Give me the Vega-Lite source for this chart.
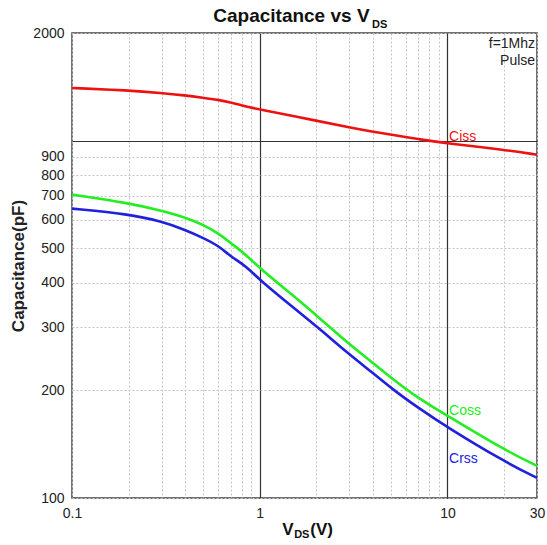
{
  "$schema": "https://vega.github.io/schema/vega-lite/v6.json",
  "width": 465,
  "height": 465,
  "autosize": {"type": "none"},
  "padding": {"left": 72, "top": 33, "right": 10, "bottom": 47},
  "background": "white",
  "config": {
    "font": "Liberation Sans",
    "view": {"stroke": "#444", "strokeWidth": 1.5},
    "axis": {"labelFont": "Liberation Sans", "titleFont": "Liberation Sans", "labelColor": "#222", "titleColor": "#222"}
  },
  "datasets": {
    "curves": [
      {"series": "Ciss", "v": 0.1, "c": 1403}, {"series": "Ciss", "v": 0.2, "c": 1382}, {"series": "Ciss", "v": 0.3, "c": 1359},
      {"series": "Ciss", "v": 0.4, "c": 1338}, {"series": "Ciss", "v": 0.5, "c": 1318}, {"series": "Ciss", "v": 0.6, "c": 1301},
      {"series": "Ciss", "v": 0.7, "c": 1279}, {"series": "Ciss", "v": 0.8, "c": 1254}, {"series": "Ciss", "v": 0.9, "c": 1236},
      {"series": "Ciss", "v": 1, "c": 1223}, {"series": "Ciss", "v": 2, "c": 1137}, {"series": "Ciss", "v": 3, "c": 1089},
      {"series": "Ciss", "v": 4, "c": 1059}, {"series": "Ciss", "v": 5, "c": 1039}, {"series": "Ciss", "v": 6, "c": 1023},
      {"series": "Ciss", "v": 7, "c": 1010}, {"series": "Ciss", "v": 8, "c": 999}, {"series": "Ciss", "v": 10, "c": 982},
      {"series": "Ciss", "v": 20, "c": 943}, {"series": "Ciss", "v": 30, "c": 913},
      {"series": "Coss", "v": 0.1, "c": 706}, {"series": "Coss", "v": 0.2, "c": 669}, {"series": "Coss", "v": 0.3, "c": 637},
      {"series": "Coss", "v": 0.4, "c": 610}, {"series": "Coss", "v": 0.5, "c": 582}, {"series": "Coss", "v": 0.6, "c": 551},
      {"series": "Coss", "v": 0.7, "c": 517}, {"series": "Coss", "v": 0.8, "c": 490}, {"series": "Coss", "v": 0.9, "c": 464},
      {"series": "Coss", "v": 1, "c": 440}, {"series": "Coss", "v": 1.5, "c": 369}, {"series": "Coss", "v": 2, "c": 325},
      {"series": "Coss", "v": 3, "c": 269}, {"series": "Coss", "v": 4, "c": 239}, {"series": "Coss", "v": 5, "c": 217},
      {"series": "Coss", "v": 7, "c": 190}, {"series": "Coss", "v": 10, "c": 170}, {"series": "Coss", "v": 20, "c": 136.5},
      {"series": "Coss", "v": 30, "c": 123},
      {"series": "Crss", "v": 0.1, "c": 645}, {"series": "Crss", "v": 0.2, "c": 623}, {"series": "Crss", "v": 0.3, "c": 594},
      {"series": "Crss", "v": 0.4, "c": 563}, {"series": "Crss", "v": 0.5, "c": 534}, {"series": "Crss", "v": 0.6, "c": 509},
      {"series": "Crss", "v": 0.7, "c": 474}, {"series": "Crss", "v": 0.8, "c": 454}, {"series": "Crss", "v": 0.9, "c": 431},
      {"series": "Crss", "v": 1, "c": 408}, {"series": "Crss", "v": 1.5, "c": 342}, {"series": "Crss", "v": 2, "c": 303},
      {"series": "Crss", "v": 3, "c": 252}, {"series": "Crss", "v": 4, "c": 224}, {"series": "Crss", "v": 5, "c": 203},
      {"series": "Crss", "v": 7, "c": 178.6}, {"series": "Crss", "v": 10, "c": 157.6}, {"series": "Crss", "v": 20, "c": 126.6},
      {"series": "Crss", "v": 30, "c": 113.8}
    ],
    "seriesLabels": [
      {"series": "Ciss", "v": 10.2, "c": 1000},
      {"series": "Coss", "v": 10.2, "c": 171},
      {"series": "Crss", "v": 10.2, "c": 125.6}
    ],
    "notes": [
      {"t": "f=1Mhz", "v": 29.3, "c": 1820},
      {"t": "Pulse", "v": 29.3, "c": 1631}
    ],
    "bigText": [
      {"t": "Capacitance vs V", "v": 0.5655, "c": 2141}
    ],
    "axisText": [
      {"t": "V", "v": 1.318, "c": 78.9},
      {"t": "(V)", "v": 1.858, "c": 78.9}
    ],
    "subText": [
      {"t": "DS", "v": 3.97, "c": 2069},
      {"t": "DS", "v": 1.526, "c": 77.4}
    ]
  },
  "layer": [
    {
      "data": {"name": "curves"},
      "mark": {"type": "line", "strokeWidth": 2.6, "interpolate": "basis"},
      "encoding": {
        "x": {
          "field": "v", "type": "quantitative",
          "scale": {"type": "log", "domain": [0.1, 30], "nice": false},
          "axis": {
            "title": null,
            "values": [0.1, 0.2, 0.3, 0.4, 0.5, 0.6, 0.7, 0.8, 0.9, 1, 2, 3, 4, 5, 6, 7, 8, 9, 10, 20, 30],
            "format": "~g",
            "labelExpr": "(datum.value == 0.1 || datum.value == 1 || datum.value == 10 || datum.value == 30) ? datum.label : ''",
            "labelFontSize": 14,
            "labelPadding": 8,
            "labelFlush": false,
            "labelOverlap": false,
            "ticks": false,
            "tickSize": 0,
            "domain": false,
            "grid": true,
            "gridColor": {"condition": {"test": "datum.value == 1 || datum.value == 10", "value": "#333"}, "value": "#c4c4c4"},
            "gridDash": {"condition": {"test": "datum.value == 1 || datum.value == 10", "value": []}, "value": [2, 2]},
            "gridWidth": {"condition": {"test": "datum.value == 1 || datum.value == 10", "value": 1.2}, "value": 1},
            "gridOpacity": 1
          }
        },
        "y": {
          "field": "c", "type": "quantitative",
          "scale": {"type": "log", "domain": [100, 2000], "nice": false},
          "axis": {
            "title": "Capacitance(pF)",
            "titleFontSize": 17,
            "titleFontWeight": "bold",
            "titlePadding": 5,
            "values": [100, 200, 300, 400, 500, 600, 700, 800, 900, 1000, 2000],
            "format": "d",
            "labelExpr": "datum.value == 1000 ? '' : datum.label",
            "labelFontSize": 14,
            "labelPadding": 8,
            "labelFlush": false,
            "labelOverlap": false,
            "ticks": false,
            "tickSize": 0,
            "domain": false,
            "grid": true,
            "gridColor": {"condition": {"test": "datum.value == 1000", "value": "#333"}, "value": "#c4c4c4"},
            "gridDash": {"condition": {"test": "datum.value == 1000", "value": []}, "value": [2, 2]},
            "gridWidth": {"condition": {"test": "datum.value == 1000", "value": 1.2}, "value": 1},
            "gridOpacity": 1
          }
        },
        "color": {
          "field": "series", "type": "nominal",
          "scale": {"domain": ["Ciss", "Coss", "Crss"], "range": ["#ee1111", "#22ee22", "#2020dd"]},
          "legend": null
        }
      }
    },
    {
      "data": {"name": "seriesLabels"},
      "mark": {"type": "text", "align": "left", "baseline": "alphabetic", "fontSize": 14},
      "encoding": {
        "x": {"field": "v", "type": "quantitative", "scale": {"type": "log", "domain": [0.1, 30], "nice": false}},
        "y": {"field": "c", "type": "quantitative", "scale": {"type": "log", "domain": [100, 2000], "nice": false}},
        "text": {"field": "series"},
        "color": {"field": "series", "type": "nominal", "scale": {"domain": ["Ciss", "Coss", "Crss"], "range": ["#ee1111", "#22ee22", "#2020dd"]}, "legend": null}
      }
    },
    {
      "data": {"name": "notes"},
      "mark": {"type": "text", "align": "right", "baseline": "alphabetic", "fontSize": 14, "color": "#222"},
      "encoding": {
        "x": {"field": "v", "type": "quantitative", "scale": {"type": "log", "domain": [0.1, 30], "nice": false}},
        "y": {"field": "c", "type": "quantitative", "scale": {"type": "log", "domain": [100, 2000], "nice": false}},
        "text": {"field": "t"}
      }
    },
    {
      "data": {"name": "bigText"},
      "mark": {"type": "text", "align": "left", "baseline": "alphabetic", "fontSize": 19, "fontWeight": "bold", "color": "#111"},
      "encoding": {
        "x": {"field": "v", "type": "quantitative", "scale": {"type": "log", "domain": [0.1, 30], "nice": false}},
        "y": {"field": "c", "type": "quantitative", "scale": {"type": "log", "domain": [100, 2000], "nice": false}},
        "text": {"field": "t"}
      }
    },
    {
      "data": {"name": "axisText"},
      "mark": {"type": "text", "align": "left", "baseline": "alphabetic", "fontSize": 17, "fontWeight": "bold", "color": "#111"},
      "encoding": {
        "x": {"field": "v", "type": "quantitative", "scale": {"type": "log", "domain": [0.1, 30], "nice": false}},
        "y": {"field": "c", "type": "quantitative", "scale": {"type": "log", "domain": [100, 2000], "nice": false}},
        "text": {"field": "t"}
      }
    },
    {
      "data": {"name": "subText"},
      "mark": {"type": "text", "align": "left", "baseline": "alphabetic", "fontSize": 11, "fontWeight": "bold", "color": "#111"},
      "encoding": {
        "x": {"field": "v", "type": "quantitative", "scale": {"type": "log", "domain": [0.1, 30], "nice": false}},
        "y": {"field": "c", "type": "quantitative", "scale": {"type": "log", "domain": [100, 2000], "nice": false}},
        "text": {"field": "t"}
      }
    }
  ]
}
